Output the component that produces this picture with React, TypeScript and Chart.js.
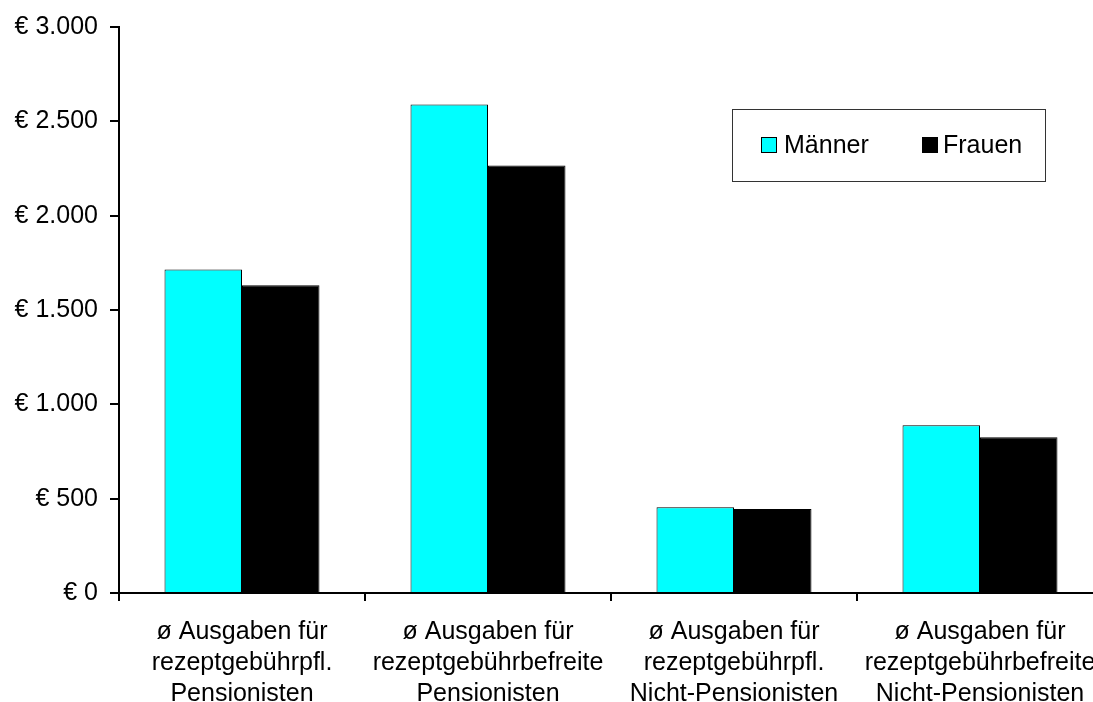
import React, { useEffect, useRef } from "react";
import { Chart, registerables } from "chart.js";

Chart.register(...registerables);

const categories: string[][] = [
  ["ø Ausgaben für", "rezeptgebührpfl.", "Pensionisten"],
  ["ø Ausgaben für", "rezeptgebührbefreite", "Pensionisten"],
  ["ø Ausgaben für", "rezeptgebührpfl.", "Nicht-Pensionisten"],
  ["ø Ausgaben für", "rezeptgebührbefreite", "Nicht-Pensionisten"],
];
const seriesNames = ["Männer", "Frauen"];
const maenner = [1715, 2589, 454, 889];
const frauen = [1631, 2266, 445, 826];
const yTicksMax = 3000;
const yTicksStep = 500;

const FONT = "'Liberation Sans', Arial, sans-serif";

function formatEuro(v: number): string {
  const s = Math.round(v).toString();
  return "€ " + s.replace(/\B(?=(\d{3})+(?!\d))/g, ".");
}

const legendPlugin = {
  id: "boxLegend",
  afterDraw(chart: any) {
    const ctx = chart.ctx as CanvasRenderingContext2D;
    ctx.save();
    const bx = 732, by = 109, bw = 313, bh = 72;
    ctx.fillStyle = "#ffffff";
    ctx.fillRect(bx, by, bw, bh);
    ctx.strokeStyle = "#333333";
    ctx.lineWidth = 1;
    ctx.strokeRect(bx + 0.5, by + 0.5, bw, bh);
    ctx.font = `25px ${FONT}`;
    ctx.textBaseline = "alphabetic";
    const items = [
      { x: 761, tx: 784 },
      { x: 922, tx: 943 },
    ];
    chart.data.datasets.forEach((ds: any, i: number) => {
      const it = items[i];
      ctx.fillStyle = ds.backgroundColor;
      ctx.fillRect(it.x, 137, 15, 16);
      ctx.strokeStyle = "#000";
      ctx.strokeRect(it.x + 0.5, 137.5, 15, 15);
      ctx.fillStyle = "#000";
      ctx.fillText(ds.label, it.tx, 153);
    });
    ctx.restore();
  },
};

export default function App() {
  const ref = useRef<HTMLCanvasElement>(null);
  useEffect(() => {
    if (!ref.current) return;
    const chart = new Chart(ref.current, {
      type: "bar",
      data: {
        labels: categories,
        datasets: [
          {
            label: seriesNames[0],
            data: maenner,
            backgroundColor: "#00FFFF",
            borderColor: "#000000",
            borderWidth: 1,
          },
          {
            label: seriesNames[1],
            data: frauen,
            backgroundColor: "#000000",
            borderColor: "#000000",
            borderWidth: 1,
          },
        ],
      },
      options: {
        responsive: false,
        animation: false,
        layout: { padding: { top: 26, right: 17, bottom: 0, left: 0 } },
        plugins: {
          legend: { display: false },
          tooltip: { enabled: false },
        },
        datasets: {
          bar: { categoryPercentage: 0.63, barPercentage: 1.0 },
        },
        scales: {
          x: {
            offset: true,
            grid: {
              display: true,
              offset: true,
              drawOnChartArea: false,
              drawTicks: true,
              tickLength: 8,
              color: "#000",
              lineWidth: 2,
            },
            border: { display: true, color: "#000", width: 2 },
            ticks: {
              color: "#000",
              font: { family: FONT, size: 25, lineHeight: 1.24 },
              padding: 16,
              maxRotation: 0,
              autoSkip: false,
            },
            afterFit: (scale: any) => {
              scale.height = 109;
            },
          },
          y: {
            min: 0,
            max: yTicksMax,
            grid: {
              display: true,
              drawOnChartArea: false,
              drawTicks: true,
              tickLength: 9,
              color: "#000",
              lineWidth: 2,
            },
            border: { display: true, color: "#000", width: 2 },
            ticks: {
              stepSize: yTicksStep,
              color: "#000",
              font: { family: FONT, size: 25 },
              padding: 12,
              callback: (v: any) => formatEuro(Number(v)),
            },
            afterFit: (scale: any) => {
              scale.width = 119;
            },
          },
        },
      },
      plugins: [legendPlugin],
    });
    return () => chart.destroy();
  }, []);
  return (
    <div
      style={{
        position: "fixed",
        left: 0,
        top: 0,
        width: 1093,
        height: 702,
        overflow: "hidden",
        background: "#fff",
      }}
    >
      <canvas ref={ref} width={1120} height={702} style={{ width: 1120, height: 702, display: "block" }} />
    </div>
  );
}
